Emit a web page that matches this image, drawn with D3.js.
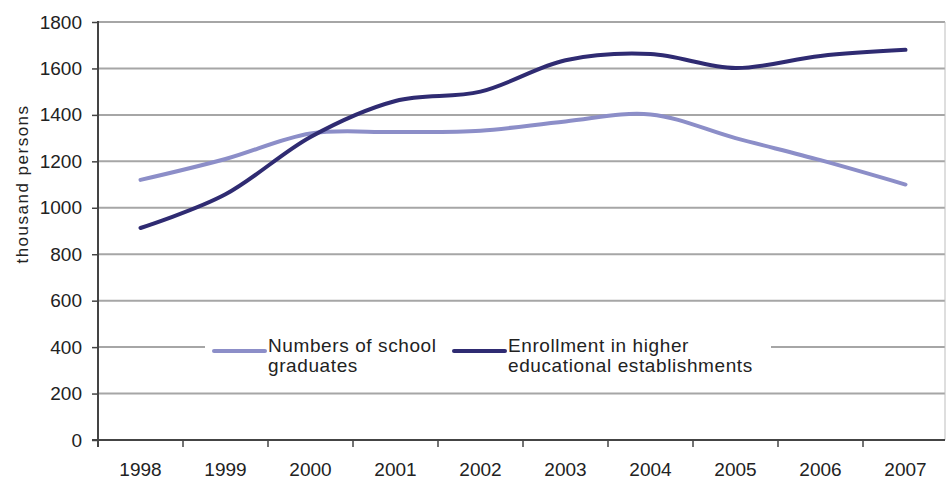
<!DOCTYPE html>
<html><head><meta charset="utf-8">
<script src="https://cdn.jsdelivr.net/npm/d3@7"></script>
<style>body{margin:0;background:#fff}svg{display:block}text{font-family:"Liberation Sans",Arial,sans-serif;fill:#222}</style>
</head><body><svg id="c" width="946" height="481"></svg>
<script>
const years = ["1998","1999","2000","2001","2002","2003","2004","2005","2006","2007"];
const graduates = [1120, 1210, 1320, 1326, 1332, 1372, 1402, 1300, 1205, 1100];
const enrollment = [913, 1058, 1305, 1460, 1500, 1635, 1662, 1602, 1654, 1680];
const yTicks = [0,200,400,600,800,1000,1200,1400,1600,1800];
const seriesNames = ["Numbers of school|graduates","Enrollment in higher|educational establishments"];
const colors = ["#8c8ec8","#2f2b72"];

const svg = d3.select("#c");
const L=98, R=945, T=22, B=440;
const x = d3.scaleBand().domain(years).range([L, 948]);
const y = d3.scaleLinear().domain([0,1800]).range([B, T]);

// gridlines
svg.append("g").selectAll("line").data(yTicks.filter(d=>d>0)).join("line")
  .attr("x1",L).attr("x2",R).attr("y1",d=>y(d)).attr("y2",d=>y(d))
  .attr("stroke","#a6a6a6").attr("stroke-width",2);
// right border
svg.append("line").attr("x1",R).attr("x2",R).attr("y1",T).attr("y2",B).attr("stroke","#bdbdbd").attr("stroke-width",1);

// y axis
const ya = svg.append("g").attr("transform",`translate(${L},0)`)
  .call(d3.axisLeft(y).tickValues(yTicks).tickSize(6).tickPadding(10).tickFormat(d3.format("d")));
ya.select(".domain").remove();
ya.selectAll(".tick line").attr("stroke","#444").attr("stroke-width",1.5);
ya.selectAll(".tick text").style("font-size","19px").attr("fill","#222");
svg.append("line").attr("x1",L).attr("x2",L).attr("y1",T-1).attr("y2",B+7).attr("stroke","#444").attr("stroke-width",2);

// x axis
svg.append("line").attr("x1",L-6).attr("x2",R).attr("y1",B).attr("y2",B).attr("stroke","#444").attr("stroke-width",2);
const bounds = years.map(d=>x(d)).concat([x(years[years.length-1])+x.bandwidth()]).filter(v=>v<R);
svg.append("g").selectAll("line").data(bounds).join("line")
  .attr("x1",d=>d).attr("x2",d=>d).attr("y1",B).attr("y2",B+7).attr("stroke","#444").attr("stroke-width",1.5);
svg.append("g").selectAll("text").data(years).join("text")
  .attr("x",d=>x(d)+x.bandwidth()/2).attr("y",476).attr("text-anchor","middle")
  .style("font-size","19px").text(d=>d);

// axis title
svg.append("text").attr("transform","translate(28,184) rotate(-90)").attr("text-anchor","middle")
  .style("font-size","17px").style("letter-spacing","1.5px").text("thousand persons");

// lines
const line = d3.line().x((d,i)=>x(years[i])+x.bandwidth()/2).y(d=>y(d)).curve(d3.curveCardinal.tension(0));
[graduates, enrollment].forEach((s,i)=>{
  svg.append("path").datum(s).attr("d",line).attr("fill","none").attr("stroke",colors[i])
    .attr("stroke-width",4).attr("stroke-linecap","round");
});

// legend
svg.append("rect").attr("x",205).attr("y",328).attr("width",566).attr("height",54).attr("fill","#fff");
const lx=[214,454];
seriesNames.forEach((n,i)=>{
  svg.append("line").attr("x1",lx[i]).attr("x2",lx[i]+51).attr("y1",351).attr("y2",351)
    .attr("stroke",colors[i]).attr("stroke-width",4).attr("stroke-linecap","round");
  const t = svg.append("text").attr("x",lx[i]+54).attr("y",351).style("font-size","19px").style("letter-spacing","0.6px");
  n.split("|").forEach((p,j)=>t.append("tspan").attr("x",lx[i]+54).attr("y",352+j*20).text(p));
});
</script></body></html>
